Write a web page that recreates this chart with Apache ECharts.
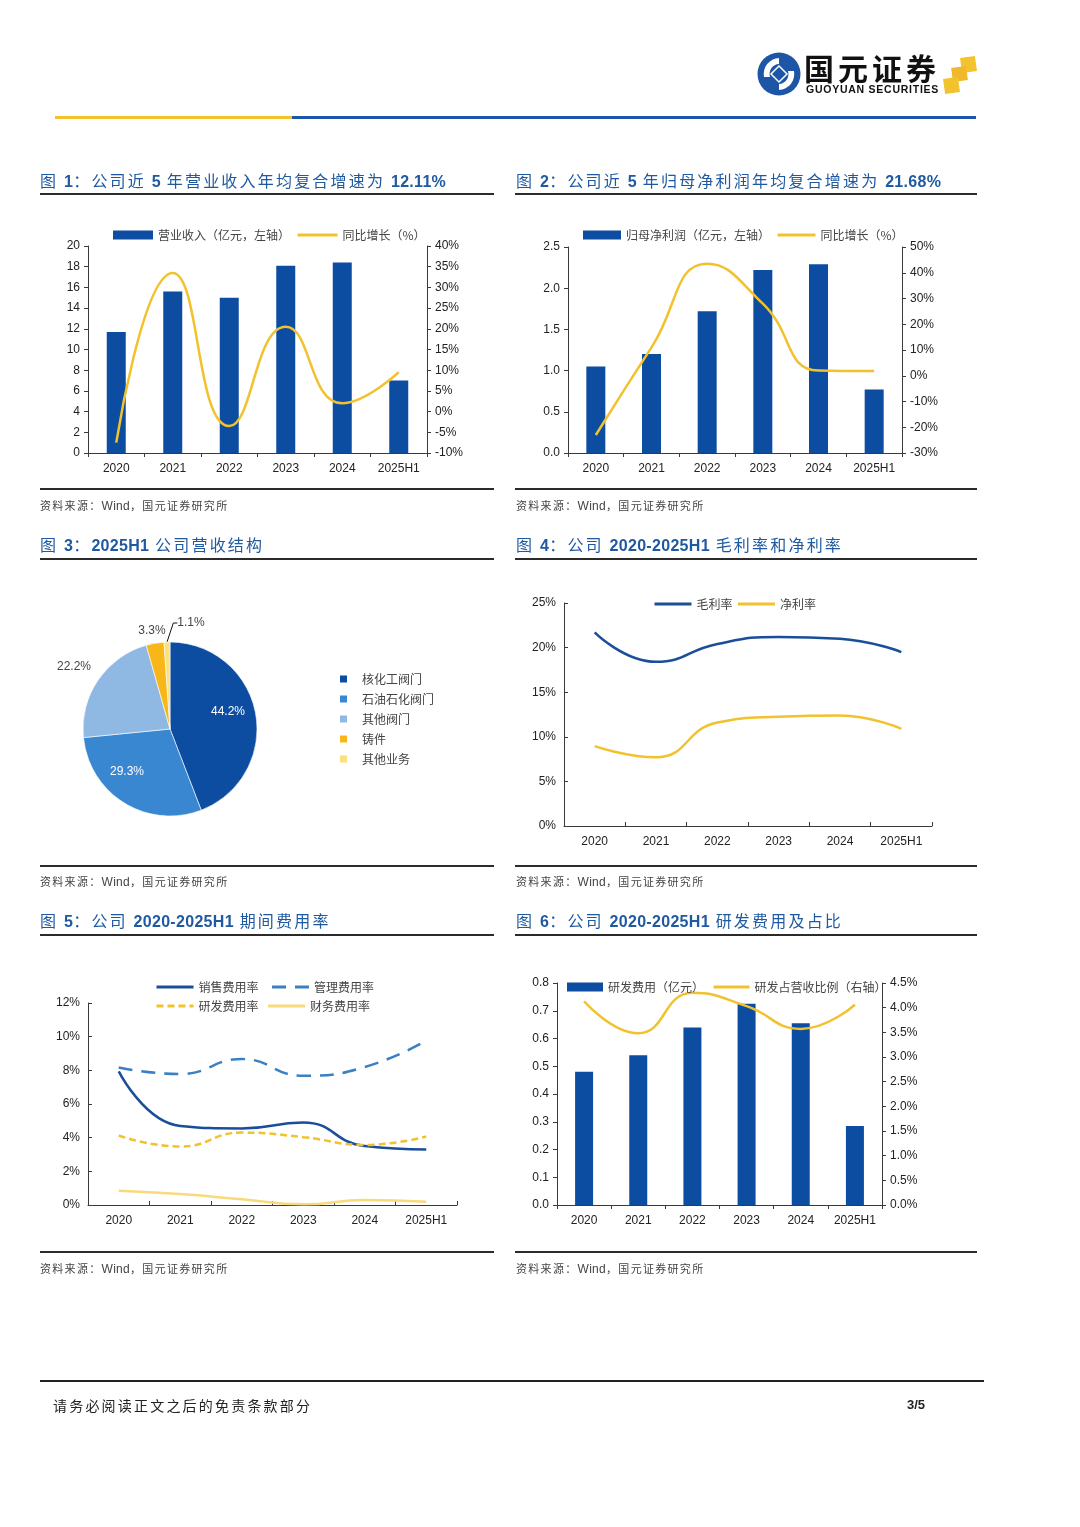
<!DOCTYPE html>
<html><head><meta charset="utf-8">
<script src="https://cdn.jsdelivr.net/npm/echarts@6/dist/echarts.min.js"></script>
<style>
html,body{margin:0;padding:0;background:#fff;}
#page{position:relative;width:1080px;height:1527px;overflow:hidden;background:#fff;font-family:"Liberation Sans","Noto Sans CJK SC",sans-serif;}
#chart{position:absolute;left:0;top:0;width:1080px;height:1527px;}
.t{position:absolute;font-size:16px;color:#1f5aa0;letter-spacing:2.2px;white-space:nowrap;line-height:20px;font-family:"Noto Sans CJK SC",sans-serif;}
.t b{font-family:"Liberation Sans",sans-serif;font-weight:bold;letter-spacing:0.3px;}
.ln{position:absolute;background:#2b2b2b;}
.src{position:absolute;font-size:11px;color:#444;white-space:nowrap;letter-spacing:1.3px;line-height:14px;font-family:"Noto Sans CJK SC",sans-serif;}
.src i{font-style:normal;font-family:"Liberation Sans",sans-serif;font-size:12px;letter-spacing:0.3px;}
</style></head>
<body><div id="page">
<div id="chart"></div>

<!-- header logo -->
<svg style="position:absolute;left:756px;top:51px" width="46" height="46" viewBox="0 0 46 46">
  <circle cx="23" cy="23" r="21.5" fill="#1d56a6"/>
  <path d="M23 7 A16 16 0 0 0 8 26 L14 26 A10 10 0 0 1 23 13 Z" fill="#fff"/>
  <path d="M23 39 A16 16 0 0 0 38 20 L32 20 A10 10 0 0 1 23 33 Z" fill="#fff"/>
  <path d="M23 15 L31 23 L23 31 L15 23 Z" fill="#1d56a6" stroke="#fff" stroke-width="1.5"/>
</svg>
<div style="position:absolute;left:804px;top:50px;font-size:30px;font-weight:bold;letter-spacing:4px;color:#111;line-height:34px;font-family:'Noto Sans CJK SC',sans-serif;">国元证券</div>
<div style="position:absolute;left:806px;top:83px;font-size:10.5px;font-weight:bold;color:#111;line-height:12px;letter-spacing:0.75px;font-family:'Liberation Sans',sans-serif;">GUOYUAN SECURITIES</div>
<div style="position:absolute;left:961px;top:57px;width:15px;height:15px;background:#f3c22f;transform:rotate(-8deg);"></div>
<div style="position:absolute;left:952px;top:67px;width:15px;height:14px;background:#f0b82a;transform:rotate(-8deg);"></div>
<div style="position:absolute;left:944px;top:78px;width:15px;height:15px;background:#f3c22f;transform:rotate(-8deg);"></div>
<div style="position:absolute;left:55px;top:116px;width:237px;height:3px;background:#f2c12e;"></div>
<div style="position:absolute;left:292px;top:116px;width:684px;height:3px;background:#1d56a6;"></div>

<!-- titles -->
<div class="t" style="left:40px;top:170px;">图 <b>1</b>：公司近 <b>5</b> 年营业收入年均复合增速为 <b>12.11%</b></div>
<div class="t" style="left:516px;top:170px;">图 <b>2</b>：公司近 <b>5</b> 年归母净利润年均复合增速为 <b>21.68%</b></div>
<div class="t" style="left:40px;top:534px;">图 <b>3</b>：<b>2025H1</b> 公司营收结构</div>
<div class="t" style="left:516px;top:534px;">图 <b>4</b>：公司 <b>2020-2025H1</b> 毛利率和净利率</div>
<div class="t" style="left:40px;top:910px;">图 <b>5</b>：公司 <b>2020-2025H1</b> 期间费用率</div>
<div class="t" style="left:516px;top:910px;">图 <b>6</b>：公司 <b>2020-2025H1</b> 研发费用及占比</div>

<!-- rules -->
<div class="ln" style="left:40px;top:193px;width:454px;height:2px;"></div>
<div class="ln" style="left:515px;top:193px;width:462px;height:2px;"></div>
<div class="ln" style="left:40px;top:488px;width:454px;height:2px;"></div>
<div class="ln" style="left:515px;top:488px;width:462px;height:2px;"></div>
<div class="ln" style="left:40px;top:558px;width:454px;height:2px;"></div>
<div class="ln" style="left:515px;top:558px;width:462px;height:2px;"></div>
<div class="ln" style="left:40px;top:865px;width:454px;height:2px;"></div>
<div class="ln" style="left:515px;top:865px;width:462px;height:2px;"></div>
<div class="ln" style="left:40px;top:934px;width:454px;height:2px;"></div>
<div class="ln" style="left:515px;top:934px;width:462px;height:2px;"></div>
<div class="ln" style="left:40px;top:1251px;width:454px;height:2px;"></div>
<div class="ln" style="left:515px;top:1251px;width:462px;height:2px;"></div>

<!-- sources -->
<div class="src" style="left:40px;top:498px;">资料来源：<i>Wind</i>，国元证券研究所</div>
<div class="src" style="left:516px;top:498px;">资料来源：<i>Wind</i>，国元证券研究所</div>
<div class="src" style="left:40px;top:874px;">资料来源：<i>Wind</i>，国元证券研究所</div>
<div class="src" style="left:516px;top:874px;">资料来源：<i>Wind</i>，国元证券研究所</div>
<div class="src" style="left:40px;top:1261px;">资料来源：<i>Wind</i>，国元证券研究所</div>
<div class="src" style="left:516px;top:1261px;">资料来源：<i>Wind</i>，国元证券研究所</div>

<!-- footer -->
<div style="position:absolute;left:40px;top:1380px;width:944px;height:2px;background:#222;"></div>
<div style="position:absolute;left:53px;top:1396px;font-size:14px;letter-spacing:2.2px;color:#222;line-height:18px;font-family:'Noto Sans CJK SC',sans-serif;">请务必阅读正文之后的免责条款部分</div>
<div style="position:absolute;left:907px;top:1397px;font-size:13px;font-weight:bold;color:#222;line-height:16px;font-family:'Liberation Sans',sans-serif;">3/5</div>
</div>

<script>
// ---------- data ----------
const years = ['2020','2021','2022','2023','2024','2025H1'];
// Fig 1
const revenue = [11.7, 15.6, 15.0, 18.1, 18.4, 7.0];
const revenueYoY = [-7.5, 33.5, -3.5, 20.5, 2.0, 9.5];
// Fig 2
const netProfit = [1.05, 1.20, 1.72, 2.22, 2.29, 0.77];
const netProfitYoY = [-23, 11, 43.5, 28, 2, 1.8];
// Fig 3
const segNames = ['核化工阀门','石油石化阀门','其他阀门','铸件','其他业务'];
const segShare = [44.2, 29.3, 22.2, 3.3, 1.1];
// Fig 4
const grossMargin = [21.7, 18.4, 20.4, 21.2, 21.0, 19.5];
const netMargin = [8.95, 7.7, 11.6, 12.25, 12.4, 10.9];
// Fig 5
const sellingRate = [7.94, 4.7, 4.55, 4.9, 3.5, 3.3];
const adminRate = [8.17, 7.78, 8.67, 7.68, 8.2, 9.76];
const rdRate = [4.13, 3.47, 4.3, 4.03, 3.57, 4.07];
const finRate = [0.85, 0.65, 0.34, 0.04, 0.3, 0.2];
// Fig 6
const rdExpense = [0.48, 0.54, 0.64, 0.725, 0.655, 0.285];
const rdShare = [4.13, 3.48, 4.3, 4.03, 3.57, 4.06];

// ---------- styles ----------
const BAR = '#0c4da2', YEL = '#f2c12e', BLUE2 = '#1a4e9a', MID = '#3a80c3', LYEL = '#f8da7c';
const FONT = 'Liberation Sans';
const CJK = 'Noto Sans CJK SC';
const axisColor = '#3a3a3a';
const lblStyle = {color:'#222', fontSize:12, fontFamily:FONT};
function xAx(gi, tickInside){
  return {type:'category', gridIndex:gi, data:years,
    axisLine:{lineStyle:{color:axisColor, width:1}},
    axisTick:{show:true, inside:!!tickInside, length:4, lineStyle:{color:axisColor}},
    axisLabel:Object.assign({margin:10, interval:0}, lblStyle)};
}
function yAx(gi, min, max, interval, fmt, pos, inside){
  return {type:'value', gridIndex:gi, min:min, max:max, interval:interval, position:pos||'left',
    splitLine:{show:false},
    axisLine:{show:true, lineStyle:{color:axisColor, width:1}},
    axisTick:{show:true, inside:!!inside, length:4, lineStyle:{color:axisColor}},
    axisLabel:Object.assign({margin:8, formatter:fmt}, lblStyle)};
}
const legText = {color:'#444', fontSize:12, fontFamily:CJK};
const legLine = {width:3};
// legend entries: bars as plain rectangles, lines without marker dot
const barItem = n => ({name:n, icon:'rect'});
const lineItem = n => ({name:n, itemStyle:{opacity:0}});

const chart = echarts.init(document.getElementById('chart'), null, {renderer:'canvas'});
const option = {
  animation:false,
  backgroundColor:'transparent',
  grid:[
    {left:88, top:246, width:339, height:207},
    {left:568, top:247, width:334, height:206},
    {left:564, top:603, width:368, height:223},
    {left:88, top:1003, width:369, height:202},
    {left:557, top:983, width:325, height:222}
  ],
  xAxis:[xAx(0), xAx(1), xAx(2,true), xAx(3,true), xAx(4)],
  yAxis:[
    yAx(0, 0, 20, 2, v=>v),
    yAx(0, -10, 40, 5, v=>v+'%', 'right'),
    yAx(1, 0, 2.5, 0.5, v=>v.toFixed(1)),
    yAx(1, -30, 50, 10, v=>v+'%', 'right'),
    yAx(2, 0, 25, 5, v=>v+'%', 'left', true),
    yAx(3, 0, 12, 2, v=>v+'%', 'left', true),
    yAx(4, 0, 0.8, 0.1, v=>v.toFixed(1)),
    yAx(4, 0, 4.5, 0.5, v=>v.toFixed(1)+'%', 'right')
  ],
  legend:[
    {left:108, top:224, itemWidth:40, itemHeight:9, itemGap:6, textStyle:legText, lineStyle:legLine,
     data:[barItem('营业收入（亿元，左轴）'), lineItem('同比增长（%）')]},
    {left:578, top:224, itemWidth:38, itemHeight:9, itemGap:6, textStyle:legText, lineStyle:legLine,
     data:[barItem('归母净利润（亿元，左轴）'), lineItem('同比增长（%）')]},
    {left:333, top:667, orient:'vertical', itemWidth:9, itemHeight:9, itemGap:6, icon:'rect',
     textStyle:Object.assign({padding:[0,0,0,9], lineHeight:14}, legText),
     data:segNames},
    {left:648, top:593, itemWidth:37, itemHeight:9, itemGap:4, textStyle:legText, lineStyle:legLine,
     data:[lineItem('毛利率'), lineItem('净利率')]},
    {left:150, top:976, itemWidth:37, itemHeight:9, itemGap:12, textStyle:legText, lineStyle:legLine,
     data:[lineItem('销售费用率'), lineItem('管理费用率')]},
    {left:150, top:995, itemWidth:37, itemHeight:9, itemGap:8, textStyle:legText, lineStyle:legLine,
     data:[lineItem('研发费用率'), lineItem('财务费用率')]},
    {left:562, top:976, itemWidth:36, itemHeight:9, itemGap:8, textStyle:legText, lineStyle:legLine,
     data:[barItem('研发费用（亿元）'), lineItem('研发占营收比例（右轴）')]}
  ],
  series:[
    {name:'营业收入（亿元，左轴）', type:'bar', xAxisIndex:0, yAxisIndex:0, data:revenue, barWidth:19, itemStyle:{color:BAR}},
    {name:'同比增长（%）', type:'line', xAxisIndex:0, yAxisIndex:1, data:revenueYoY, smooth:0.5, symbol:'none', lineStyle:{color:YEL, width:2.5}, itemStyle:{color:YEL}},
    {name:'归母净利润（亿元，左轴）', type:'bar', xAxisIndex:1, yAxisIndex:2, data:netProfit, barWidth:19, itemStyle:{color:BAR}},
    {name:'同比增长（%）', type:'line', xAxisIndex:1, yAxisIndex:3, data:netProfitYoY, smooth:0.5, symbol:'none', lineStyle:{color:YEL, width:2.5}, itemStyle:{color:YEL}},
    {name:'营收结构', type:'pie', center:[170,729], radius:87, startAngle:90, clockwise:true,
     color:['#0c4da2','#3a87d1','#8fb8e3','#f7b718','#fbe07e'],
     itemStyle:{borderColor:'#fff', borderWidth:0.6},
     label:{show:true, position:'outside', formatter:p=>p.value.toFixed(1)+'%', color:'#444', fontSize:12, fontFamily:FONT},
     labelLine:{show:true, length:6, length2:4, lineStyle:{color:'#111', width:1}},
     labelLayout:function(p){
       const pos = [[228,712],[127,772],[74,667],[152,631],[191,623]][p.dataIndex];
       return {x:pos[0], y:pos[1], align:'center', verticalAlign:'middle'};
     },
     data:segNames.map((n,i)=>({name:n, value:segShare[i],
       label: i<2 ? {color:'#fff'} : {},
       labelLine:{show:i===4}}))
    },
    {name:'毛利率', type:'line', xAxisIndex:2, yAxisIndex:4, data:grossMargin, smooth:0.5, symbol:'none', lineStyle:{color:BLUE2, width:2.5}, itemStyle:{color:BLUE2}},
    {name:'净利率', type:'line', xAxisIndex:2, yAxisIndex:4, data:netMargin, smooth:0.5, symbol:'none', lineStyle:{color:YEL, width:2.5}, itemStyle:{color:YEL}},
    {name:'销售费用率', type:'line', xAxisIndex:3, yAxisIndex:5, data:sellingRate, smooth:0.5, symbol:'none', lineStyle:{color:BLUE2, width:2.5}, itemStyle:{color:BLUE2}},
    {name:'管理费用率', type:'line', xAxisIndex:3, yAxisIndex:5, data:adminRate, smooth:0.5, symbol:'none', lineStyle:{color:MID, width:2.5, type:[14,9]}, itemStyle:{color:MID}},
    {name:'研发费用率', type:'line', xAxisIndex:3, yAxisIndex:5, data:rdRate, smooth:0.5, symbol:'none', lineStyle:{color:YEL, width:2.5, type:[7,4]}, itemStyle:{color:YEL}},
    {name:'财务费用率', type:'line', xAxisIndex:3, yAxisIndex:5, data:finRate, smooth:0.5, symbol:'none', lineStyle:{color:LYEL, width:2.5}, itemStyle:{color:LYEL}},
    {name:'研发费用（亿元）', type:'bar', xAxisIndex:4, yAxisIndex:6, data:rdExpense, barWidth:18, itemStyle:{color:BAR}},
    {name:'研发占营收比例（右轴）', type:'line', xAxisIndex:4, yAxisIndex:7, data:rdShare, smooth:0.5, symbol:'none', lineStyle:{color:YEL, width:2.5}, itemStyle:{color:YEL}}
  ]
};
chart.setOption(option);
</script>
</body></html>
